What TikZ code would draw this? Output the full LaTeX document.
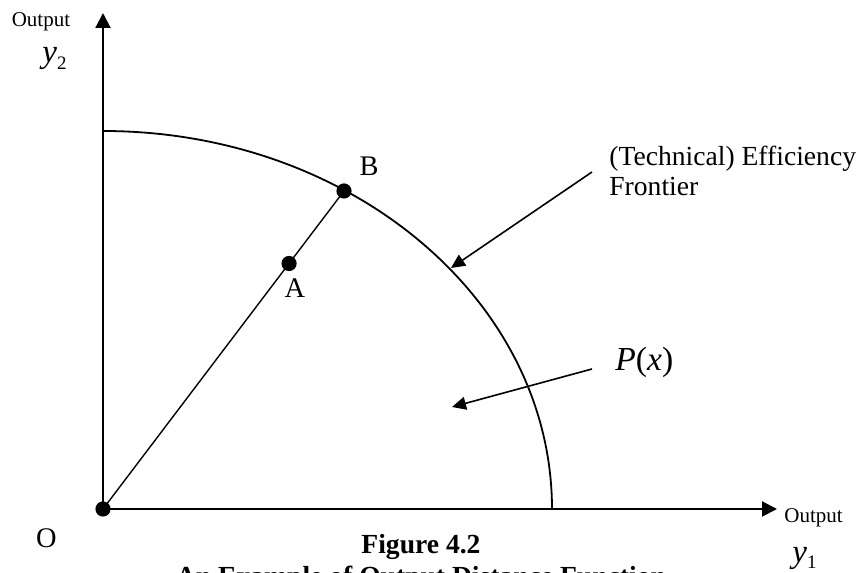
\documentclass[tikz,border=0pt]{standalone}
\usepackage{fontspec}
\setmainfont{Liberation Serif}
\usetikzlibrary{arrows.meta,calc}
\begin{document}
\begin{tikzpicture}[x=0.5pt,y=0.5pt,
  dot/.style={circle,fill=black,inner sep=0pt,minimum size=7.6pt},
  axis/.style={line width=1pt,-{Triangle[length=7.5pt,width=7.5pt]}},
  callout/.style={line width=0.8pt,-{Triangle[length=7pt,width=6.5pt]}},
  txt/.style={inner sep=0pt,font=\fontsize{14.2}{16}\selectfont},
  small/.style={inner sep=0pt,font=\fontsize{10.5}{12}\selectfont},
  mathlbl/.style={inner sep=0pt,font=\fontsize{16.5}{18}\selectfont},
  captxt/.style={inner sep=0pt,anchor=base,font=\fontsize{13.8}{16}\selectfont\bfseries}]
\useasboundingbox (0,0) rectangle (864,573);
% points
\node[dot] (O) at (103,64) {};
\node[dot] (B) at (344,382) {};
\node[dot] (A) at ($(O)!0.772!(B)$) {};
\coordinate (ytop) at (103,560);
\coordinate (xend) at (777,64);
% axes
\draw[axis] (O.center) -- (ytop);
\draw[axis] (O.center) -- (xend);
% frontier
\draw[line width=0.9pt] (552,64) arc[start angle=0,end angle=90,x radius=449,y radius=378];
% ray
\draw[line width=0.7pt] (O.center) -- (B.center);
% callouts
\coordinate (fs) at (592,401);
\coordinate (ft) at (451,305);
\draw[callout] (fs) -- (ft);
\coordinate (ps) at (592,204);
\coordinate (pt) at (452,166);
\draw[callout] (ps) -- (pt);
% labels
\node[small,anchor=base] (out2) at (41,546) {Output};
\node[mathlbl,anchor=base west] (y2) at (42,510) {\textit{y}\raisebox{-3.5pt}{\fontsize{9.5}{10}\selectfont 2}};
\node[small,anchor=base west] (out1) at (784,50) {Output};
\node[mathlbl,anchor=base west] (y1) at (792,10) {\textit{y}\raisebox{-3pt}{\fontsize{9.5}{10}\selectfont 1}};
\node[txt,anchor=base] (Olbl) at (46.5,25) {O};
\node[txt,anchor=base] (Blbl) at (369,397) {B};
\node[txt,anchor=base] (Albl) at (295,275) {A};
\node[txt,anchor=base west,font=\fontsize{13.8}{16}\selectfont] (tech) at (609,407) {(Technical) Efficiency};
\node[txt,anchor=base west,font=\fontsize{13.8}{16}\selectfont] (front) at (609,377) {Frontier};
\node[mathlbl,anchor=base west,font=\fontsize{16.8}{18}\selectfont] (Px) at (615,202) {\textit{P}(\textit{x})};
\node[captxt] (fig) at (421,19) {Figure 4.2};
\node[captxt] (fig2) at (421,-13) {An Example of Output Distance Function};
\end{tikzpicture}
\end{document}
